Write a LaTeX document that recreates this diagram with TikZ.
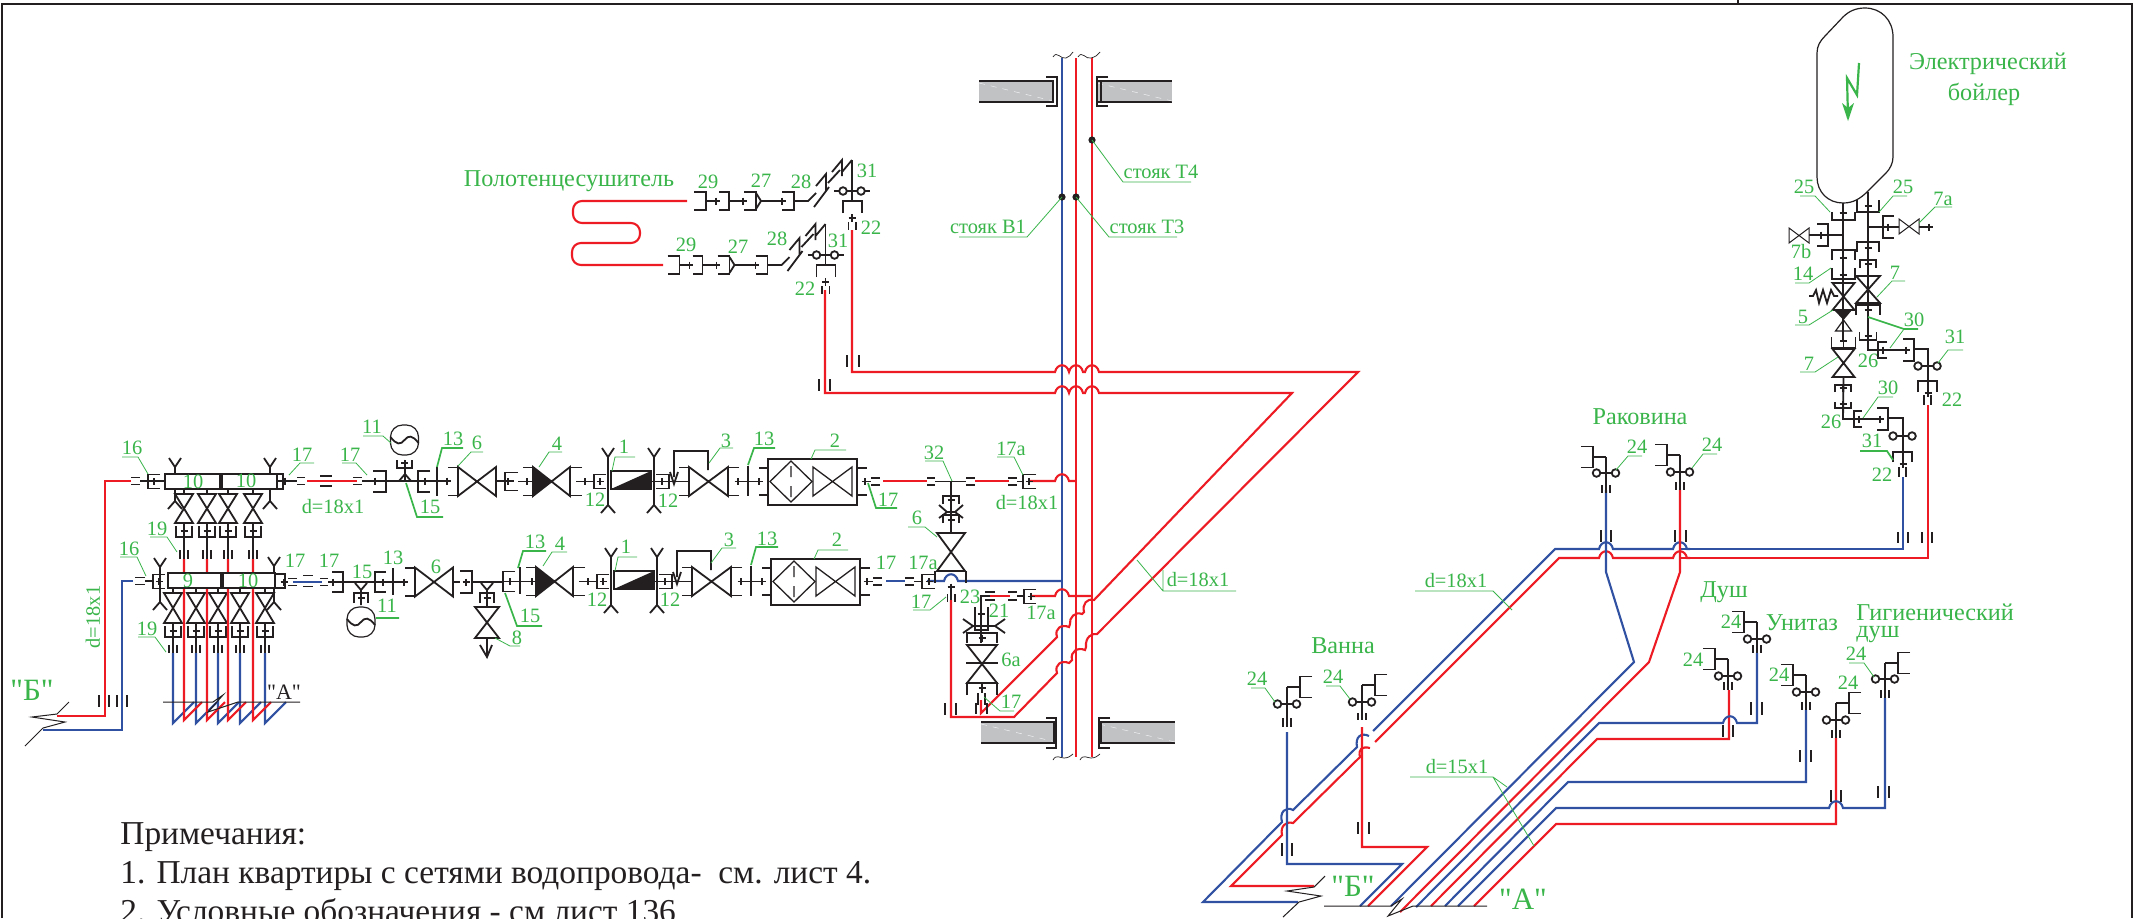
\documentclass[tikz,border=0pt]{standalone}
\usepackage{fontspec}
\setmainfont{Liberation Serif}
\newfontfamily\qf{Liberation Serif}
\definecolor{grn}{RGB}{57,181,74}
\definecolor{rd}{RGB}{237,28,36}
\definecolor{bl}{RGB}{48,80,162}
\definecolor{dk}{RGB}{35,31,32}
\definecolor{wl}{RGB}{192,194,196}
\tikzset{
 sym/.style={draw=dk,line width=0.9pt,line join=miter},
 thn/.style={draw=dk,line width=0.5pt},
 rp/.style={draw=rd,line width=1.05pt},
 bp/.style={draw=bl,line width=1.05pt},
 lead/.style={draw=grn,line width=0.4pt},
 leadt/.style={draw=grn,line width=0.85pt},
 lbl/.style={text=grn,font=\fontsize{10.2}{10}\selectfont,inner sep=0pt},
 lblm/.style={text=grn,font=\fontsize{12.1}{12}\selectfont,inner sep=0pt},
 lblb/.style={text=grn,font=\fontsize{15.5}{15}\selectfont,inner sep=0pt},
 note/.style={text=dk,font=\fontsize{16.7}{16}\selectfont,inner sep=0pt,anchor=base west},
}
\newcounter{lbn}
\newcommand{\lb}[3]{\stepcounter{lbn}\node[lbl] (t\arabic{lbn}) at (#1,#2) {#3};}
\newcommand{\lbm}[3]{\stepcounter{lbn}\node[lblm] (t\arabic{lbn}) at (#1,#2) {#3};}
\newcommand{\xc}[2]{\draw[sym] ({#1-3.5},#2)--({#1+3.5},#2) (#1,{#2-3.5})--(#1,{#2+3.5});}
\newcommand{\Ubr}[4]{\draw[sym] ({#1-#4},#2)--({#1-#4},#3)--({#1+#4},#3)--({#1+#4},#2);}
\newcommand{\Cbr}[4]{\draw[sym] (#1,{#3-#4})--(#2,{#3-#4})--(#2,{#3+#4})--(#1,{#3+#4});}
\newcommand{\Vv}[4]{\draw[sym] ({#1-#4},#2)--({#1+#4},#2)--({#1-#4},#3)--({#1+#4},#3)--cycle;}
\newcommand{\Hv}[4]{\draw[sym] (#1,{#3-#4})--(#2,{#3+#4})--(#2,{#3-#4})--(#1,{#3+#4})--cycle;}
\newcommand{\Eq}[4]{\draw[sym] (#1,{#3-#4})--(#2,{#3-#4}) (#1,{#3+#4})--(#2,{#3+#4});}
\newcommand{\Tk}[4]{\draw[sym] (#1,#3)--(#1,#4) (#2,#3)--(#2,#4);}
\newcommand{\Clamp}[3]{\draw[sym] ({#1-6},#2)--(#1,{#2+9})--({#1+6},#2) (#1,{#2+9})--(#1,{#3-8}) ({#1-7},#3)--(#1,{#3-8})--({#1+7},#3);}
\newcommand{\hm}[2]{-- ({#1-7},#2) .. controls ({#1-5},{#2-9}) and ({#1+5},{#2-9}) .. ({#1+7},#2)}
\newcommand{\Gauge}[2]{\draw[thn,line width=0.6pt,rounded corners=6pt] ({#1-14},{#2-15}) rectangle ({#1+14},{#2+15});
 \draw[sym] ({#1-14},{#2-3}) .. controls ({#1-8},{#2+5}) and ({#1-4},{#2+5}) .. (#1,#2) .. controls ({#1+4},{#2-5}) and ({#1+8},{#2-5}) .. ({#1+14},{#2+3});}
\newcommand{\Fx}[6]{\draw[sym] (#1,#2)--(#1,#5) (#1,#2)--({#1+#6*13},#2);
 \draw[sym] ({#1+#6*25},{#2-10.5})--({#1+#6*13},{#2-10.5})--({#1+#6*13},{#2+10.5})--({#1+#6*25},{#2+10.5});
 \draw[sym] ({#1-9},#3)--({#1+9},#3);
 \draw[sym,fill=white] ({#1-9.5},#3) circle[radius=3.8] ({#1+9.5},#3) circle[radius=3.8];
 \Tk{#1-4}{#1+4}{#4}{#5}}
\newcommand{\Train}{%
 \Cbr{523}{533}{481.5}{14}\Hv{533}{570}{481.5}{14.5}\fill[dk] (533,467)--(552,481.5)--(533,496)--cycle;
 \Cbr{582}{570}{481.5}{14}\draw[sym] (576,481.5)--(594,481.5);\xc{585}{481.5}
 \Cbr{606}{594}{481.5}{7}\xc{600}{481.5}\Clamp{608}{448}{513}
 \draw[sym] (611,471) rectangle (651,489);\fill[dk] (611,489)--(651,471)--(651,489)--cycle;
 \draw[sym] (651,481.5)--(689,481.5);\Clamp{654}{448}{513}\Cbr{656}{669}{481.5}{7}\xc{662}{481.5}
 \Cbr{679}{689}{481.5}{14}\Hv{689}{728}{481.5}{14.5}\Cbr{739}{728}{481.5}{14}
 \draw[sym] (674,477)--(674,451)--(708,451)--(708,470) (670,472)--(674,484)--(678,472);
 \draw[sym] (748,466)--(748,496) (736,481.5)--(759,481.5);\xc{738}{481.5}\xc{759}{481.5}
 \draw[sym] (768,459) rectangle (857,505) (759,468)--(768,468) (759,495)--(768,495) (857,468)--(867,468) (857,495)--(867,495);
 \draw[thn,line width=0.65pt] (770,481.5)--(791,461)--(812,481.5)--(791,502)--cycle (791,466)--(791,477) (791,486)--(791,497);
 \draw[thn,line width=0.65pt] (813,467)--(852,496)--(852,467)--(813,496)--cycle;}
\newcommand{\Tw}{%
 \Cbr{694}{706}{201}{9}\draw[sym] (706,201)--(719,201);\xc{716}{201}\Cbr{719}{729}{201}{9}
 \draw[sym] (729,201)--(744,201);\xc{743}{201}\Cbr{744}{756}{201}{9}\draw[sym] (756,193)--(761,201)--(756,209) (761,201)--(782,201);\xc{782}{201}
 \Cbr{782}{794}{201}{9}\draw[sym] (794,201)--(808,201)--(816,193);
 \draw[sym] (814,207)--(829,187) (816,186)--(826,174)--(826,191) (828,183)--(840,170) (832,172)--(842,160)--(842,176) (842,172)--(852,160);
 \draw[sym] (852,160)--(852,201) (834,191)--(870,191);
 \draw[sym,fill=white] (843,191) circle[radius=3.8] (861,191) circle[radius=3.8];
 \Ubr{852.5}{213}{201}{9.5}\draw[sym] (852,214)--(852,222);\xc{852}{218}\Tk{848.5}{856}{222}{230}}
\newcommand{\Wall}[4]{\fill[wl] (#1,#3) rectangle (#2,#4);\draw[sym] (#1,#3)--(#2,#3) (#1,#4)--(#2,#4);\draw[white!75!wl,line width=0.25pt,dashed] (#1,{#3+2})--(#2,{#4-1});}
\begin{document}
\begin{tikzpicture}[x=0.5pt,y=-0.5pt]
\useasboundingbox (0,0) rectangle (2134,918);
\fill[white] (0,0) rectangle (2134,918);
% frame
\draw[dk,line width=1.3pt] (2,918)--(2,4)--(2132,4)--(2132,918);
\draw[dk,line width=0.6pt] (1738,0)--(1738,4);
% walls
\Wall{979}{1053}{81}{102}\Wall{1097}{1172}{81}{102}\Wall{981}{1056}{722}{743}\Wall{1099}{1175}{722}{743}
\draw[sym] (1046,77)--(1057,77)--(1057,106)--(1046,106) (1053,80)--(1053,103);
\draw[sym] (1108,77)--(1097,77)--(1097,106)--(1108,106) (1101,80)--(1101,103);
\draw[sym] (1046,718)--(1056,718)--(1056,748)--(1046,748) (1054,722)--(1054,744);
\draw[sym] (1110,718)--(1099,718)--(1099,748)--(1110,748) (1101,722)--(1101,744);
% riser waves
\draw[thn,line width=0.35pt] (1053,57) .. controls (1057,50) and (1061,60) .. (1066,58) .. controls (1069,57) and (1071,55) .. (1073,52)
 (1078,57) .. controls (1082,50) and (1086,60) .. (1091,58) .. controls (1095,57) and (1098,55) .. (1100,52)
 (1053,760) .. controls (1056,754) and (1060,758) .. (1064,758) .. controls (1068,758) and (1071,756) .. (1073,754)
 (1080,760) .. controls (1083,754) and (1087,758) .. (1091,758) .. controls (1095,758) and (1098,756) .. (1100,754);
% risers
\draw[bp] (1062,58)--(1062,757);
\draw[rp] (1076,58)--(1076,757);
\draw[rp] (1092,58)--(1092,757);
% risers dots + leaders
\fill[dk] (1092,140) circle[radius=3.6] (1062,197) circle[radius=3.6] (1076,197) circle[radius=3.6];
\draw[lead] (1092,140)--(1123,182)--(1191,182) (1062,197)--(1027,237)--(959,237) (1076,197)--(1109,237)--(1177,237);
\lb{1161}{172}{стояк Т4}\lb{988}{227}{стояк В1}\lb{1147}{227}{стояк Т3}
% apartment pipes : towel rail and its risers
\draw[rp,rounded corners=4.5pt] (687,201)--(573,201)--(573,223)--(640,223)--(640,243)--(572,243)--(572,265)--(663,265);
\draw[rp] (852,230)--(852,372) \hm{1062}{372} \hm{1076}{372} \hm{1092}{372} -- (1358,372)--(1097,634)
 .. controls (1092,633) and (1085,637) .. (1086,647) -- (1085,650) .. controls (1078,647) and (1070,651) .. (1072,660) -- (1069,663) .. controls (1062,660) and (1054,664) .. (1057,673) -- (1014,717)--(951,717)--(951,600);
\draw[rp] (825,290)--(825,393) \hm{1062}{393} \hm{1076}{393} \hm{1092}{393} -- (1292,393)--(1094,600)
 .. controls (1087,598) and (1082,604) .. (1084,612) -- (1082,614) .. controls (1075,611) and (1069,618) .. (1070,624) -- (1069,627) .. controls (1062,624) and (1054,628) .. (1057,637) -- (981,713)--(981,700);
\draw[rp] (883,481)--(927,481) (975,481)--(1009,481);
\draw[rp] (1029,481) \hm{1062}{481} -- (1076,481);
\draw[bp] (886,581)--(905,581);
\draw[bp] (927,581) \hm{951}{581} -- (1062,581);
\draw[rp] (990,596)--(1010,596);
\draw[rp] (1030,596) \hm{1062}{596} -- (1092,596);
% left supply
\draw[rp] (131,481)--(105,481)--(105,716)--(57,716);
\draw[bp] (133,581)--(122,581)--(122,730)--(43,730);
\draw[rp] (307,481)--(357,481);
\draw[bp] (293,582)--(322,582);
\Tk{99}{109}{695}{707}\Tk{117}{127}{695}{707}
\draw[thn] (69,702)--(57,714)--(32,717)--(65,722)--(43,728)--(25,746);
% upper manifold
\draw[sym] (140,481)--(165,481) (277,481)--(297,481);
\Eq{131}{140}{481}{3.5}\Eq{297}{305}{481}{3.5}\Eq{320}{332}{481}{5}\Eq{353}{362}{481}{3.5}
\Cbr{160}{148}{481.5}{7}\xc{154}{481.5}
\foreach \x in {184,207,228,253}{
 \draw[sym] (\x,489)--(\x,494) (\x,523)--(\x,559);
 \Vv{\x}{494}{523}{9}\Ubr{\x}{526}{537}{8}\xc{\x}{531}\Tk{\x-4}{\x+4}{550}{559}}
\Clamp{175}{458}{509}\Clamp{270}{458}{509}
\draw[sym,fill=white] (165,474) rectangle (220,489) (222,474) rectangle (277,489);
\draw[sym] (277,474)--(283,474)--(283,489)--(277,489);
\draw[sym] (283,481)--(290,481);\xc{285}{481}
\draw[sym] (362,481)--(386,481)--(418,481);\xc{375}{481}\Cbr{373}{386}{481.5}{10.5}
\draw[sym] (405,481)--(405,460);\draw[sym] (399,481)--(405,474)--(411,481);
\Ubr{404.5}{460}{468}{7.5}\xc{404.5}{463}\Gauge{404.5}{440}
\Cbr{430}{418}{481.5}{10.5}\draw[sym] (418,481)--(448,481) (437,467)--(437,496);\xc{425}{481}\xc{447}{481}
\Cbr{448}{458}{481.5}{14}\Hv{458}{496}{481.5}{14.5}\draw[sym] (496,481)--(514,481);
\Cbr{518}{505}{481.5}{9}\xc{508}{481.5}\draw[sym] (518,481.5)--(533,481.5);\xc{527}{481.5}
\Train
% upper row right
\draw[sym] (864,481.5)--(871,481.5);\xc{865}{481.5}\Eq{871}{880}{481.5}{3.5}
\Eq{927}{935}{481.5}{3.5}\draw[sym] (935,481.5)--(966,481.5);\Eq{966}{975}{481.5}{3.5}\Eq{1008}{1017}{481.5}{3.5}
\draw[sym] (1017,481.5)--(1023,481.5);\Cbr{1036}{1023}{481.5}{7}\xc{1029}{481.5}
\draw[sym] (951,481.5)--(951,533);\Ubr{951}{504}{496}{8}\xc{951}{500}\Ubr{951}{523}{515}{8}\xc{951}{520}
\draw[sym] (939,505)--(947,512)--(939,518) (963,505)--(955,512)--(963,518) (947,512)--(955,512);
\Vv{951}{533}{571}{14}\draw[sym] (935,571)--(935,583) (966,571)--(966,583);
% lower row
\draw[sym] (145,581)--(153,581);\Eq{135}{145}{581}{3.5}\Cbr{165}{153}{581.5}{7}\xc{159}{581.5}
\foreach \x in {173,196,218,240,265}{
 \draw[sym] (\x,588)--(\x,593) (\x,623)--(\x,653);
 \Vv{\x}{593}{623}{9}\Ubr{\x}{626}{637}{8}\xc{\x}{631}\Tk{\x-4}{\x+4}{645}{653}
 \draw[bp] (\x,653)--(\x,723)--({\x+21},702);}
\foreach \x in {184,207,228,253}{\draw[rp] (\x,559)--(\x,720)--({\x+18},702);}
\Clamp{160}{558}{610}\Clamp{274}{557}{610}
\draw[sym,fill=white] (168,573) rectangle (221,588) (223,573) rectangle (275,588);
\draw[sym] (275,574)--(285,574)--(285,588)--(275,588);
\draw[sym] (283,582)--(288,582);\xc{284}{582}\Eq{288}{297}{582}{3.5}\Eq{303}{313}{581}{5.5}\Eq{320}{328}{582}{3.5}
\draw[sym] (328,582)--(343,582)--(375,582);\xc{333}{582}\Cbr{332}{343}{582}{10}
\draw[sym] (355,583)--(361,590)--(367,583) (361,590)--(361,605);\Ubr{361}{603}{593}{7}\xc{361}{598}\Gauge{361}{622}
\Cbr{386}{375}{582}{10}\draw[sym] (375,582)--(406,582) (393,568)--(393,595);\xc{383}{582}\xc{404}{582}
\Cbr{405}{415}{582}{14}\Hv{415}{453}{582}{14.5}\draw[sym] (453,582)--(460,582);
\Cbr{460}{472}{582}{11}\xc{466}{582}\draw[sym] (472,582)--(503,582);
\draw[sym] (481,583)--(487,590)--(493,583) (487,590)--(487,607);\Ubr{487}{603}{593}{7}\xc{487}{598}
\Vv{487}{607}{638}{12}\draw[sym] (487,638)--(487,657) (480,645)--(487,657)--(492,645);
\Cbr{515}{503}{581.5}{10}\xc{510}{581.5}\draw[sym] (503,581.5)--(536,581.5) (520,567)--(520,594);\xc{532}{581.5}
\begin{scope}[shift={(3,100)}]\Train\end{scope}
\draw[sym] (867,581.5)--(873,581.5);\xc{867}{581.5}\Eq{873}{882}{581.5}{3.5}
\Eq{905}{914}{581.5}{3.5}\draw[sym] (914,581.5)--(922,581.5);\Cbr{935}{922}{581.5}{7}\xc{929}{581.5}
\draw[sym] (951,586)--(951,600);\xc{951}{587}\Tk{947.5}{955}{594}{602}\Tk{945}{956}{703}{715}
% 6a
\draw[rp] (990,596)--(1008,596);
\Eq{985}{995}{596}{4}\Eq{1008}{1017}{596}{4}
\draw[sym] (990,596)--(981,596)--(981,643) (1017,596)--(1024,596);
\Cbr{1036}{1024}{596.5}{7}\xc{1031}{596.5}
\Ubr{981.5}{607}{630}{6.5}\xc{981}{614}
\draw[sym] (963,619)--(973,626)--(963,633) (1005,619)--(995,626)--(1005,633) (973,626)--(995,626);
\draw[sym] (967,643)--(967,633)--(997,633)--(997,643);\xc{982}{638}
\Vv{982}{645}{683}{15}\draw[sym] (966,663)--(998,663);
\draw[sym] (967,695)--(967,683)--(997,683)--(997,695);\draw[sym] (982,683)--(982,693);\xc{982}{688}\Tk{978}{985}{693}{705}
\Tk{976}{987}{703}{714}
% towel fittings
\Tw
\begin{scope}[shift={(-26.5,64)}]\Tw\end{scope}
\Tk{847}{859}{355}{367}\Tk{819}{830}{379}{391}
% A section at left
\draw[thn] (163,702)--(213,702)--(223,695)--(208,712)--(238,702)--(300,702);
\node[text=dk,font=\fontsize{11}{11}\selectfont\qf,inner sep=0pt] (aleft) at (284,692) {"А"};
% boiler
\draw[dk,line width=0.6pt] (1817,53) .. controls (1817,46) and (1820,41) .. (1825,36) -- (1843,17) .. controls (1849,11) and (1856,8) .. (1865,8) .. controls (1881,8) and (1893,20) .. (1893,37)
 -- (1893,157) .. controls (1893,163) and (1890,169) .. (1886,173) -- (1868,191) .. controls (1860,199) and (1853,203) .. (1843,203) .. controls (1828,203) and (1817,192) .. (1817,177) -- cycle;
\draw[grn,line width=1.1pt] (1859,63)--(1857,95)--(1847,78)--(1848,118);
\fill[grn] (1842,103)--(1848,121)--(1854,103)--(1848,108)--cycle;
% boiler left column
\draw[sym] (1843,203)--(1843,340);
\Ubr{1843.5}{212}{220}{11.5}\xc{1843}{213}
\draw[sym] (1843,235)--(1809,235);\Cbr{1817}{1828}{235}{11}\xc{1821}{235}
\draw[thn,line width=0.5pt] (1789,228)--(1809,243)--(1809,228)--(1789,243)--cycle;
\Ubr{1843.5}{260}{250}{11.5}\xc{1843}{258}\Ubr{1843.5}{268}{279}{11.5}\xc{1843}{275}
\Vv{1843.5}{283}{310}{11}
\draw[sym] (1809,296)--(1813,296)--(1816,290)--(1819,303)--(1823,290)--(1827,303)--(1831,290)--(1834,296)--(1838,296);
\fill[dk] (1834,310)--(1852,310)--(1843.5,320)--cycle;
\draw[thn,line width=0.6pt] (1843.5,320)--(1835.5,331)--(1851.5,331)--cycle;
\draw[sym] (1843.5,331)--(1843.5,349);\Ubr{1843.5}{337}{348}{12}\xc{1843.5}{341}
\Vv{1843.5}{349}{377}{11}
\draw[sym] (1843.5,377)--(1843,419)--(1854,419);
\Ubr{1843}{392}{385}{8}\xc{1843}{388}\Ubr{1843}{402}{408}{8}\xc{1843}{404}
\Cbr{1862}{1854}{419}{8}\draw[sym] (1854,419)--(1882,419);\xc{1859}{419}\xc{1880}{419}
\Cbr{1877}{1888}{419}{11}\draw[sym] (1888,418)--(1903,418)--(1903,467);
\draw[sym] (1893,436)--(1912,436);\draw[sym,fill=white] (1893,436) circle[radius=3.8] (1912,436) circle[radius=3.8];
\Ubr{1902.5}{462}{452}{9.5}\xc{1903}{464}\Tk{1899}{1906}{467}{477}
% boiler right column
\draw[sym] (1868,192)--(1868,350)--(1878,350);
\Ubr{1868}{200}{212}{11}\xc{1868}{206}
\draw[sym] (1868,227)--(1883,227);\Cbr{1894}{1883}{227}{11}\xc{1888}{227}\draw[sym] (1883,227)--(1899,227);
\draw[thn,line width=0.5pt] (1899,219)--(1919,234)--(1919,219)--(1899,234)--cycle;
\draw[sym] (1919,227)--(1932,227);\xc{1929}{227}
\Ubr{1868}{252}{242}{11}\xc{1868}{248}\Ubr{1868}{268}{260}{8}\xc{1868}{264}
\Vv{1868}{276}{303}{12}\Ubr{1868}{315}{305}{12}\xc{1868}{310}\Ubr{1868}{332}{340}{8.5}\xc{1868}{336}
\Cbr{1887}{1878}{350}{8}\draw[sym] (1878,350)--(1907,350);\xc{1883}{350}\xc{1906}{350}
\Cbr{1903}{1914}{350}{11}\draw[sym] (1914,349)--(1928,349)--(1928,395);
\draw[sym] (1918,366)--(1937,366);\draw[sym,fill=white] (1918,366) circle[radius=3.8] (1937,366) circle[radius=3.8];
\Ubr{1927.5}{392}{381}{9.5}\xc{1928}{393}\Tk{1924}{1931}{395}{405}
% right side pipes
\draw[bp] (1903,477)--(1903,549)--(1680,549);
\draw[rp] (1928,405)--(1928,558)--(1680,558);
\draw[bp] (1298,902)--(1203,902)--(1282,822) .. controls (1279,812) and (1286,806) .. (1293,810)--(1357,747) .. controls (1355,737) and (1361,732) .. (1369,736);
\draw[rp] (1314,886)--(1231,886)--(1282,835) .. controls (1280,826) and (1286,821) .. (1293,823)--(1360,757) .. controls (1358,749) and (1362,746) .. (1370,748);
\draw[bp] (1373,731)--(1555,549) \hm{1606}{549} \hm{1680}{549} -- (1690,549);
\draw[rp] (1375,742)--(1559,558) \hm{1606}{558} \hm{1680}{558} -- (1690,558);
\draw[bp] (1287,732)--(1287,864)--(1402,864)--(1360,906);
\draw[rp] (1362,727)--(1362,847)--(1427,847)--(1368,906);
\draw[bp] (1606,490)--(1606,572)--(1634,662)--(1391,906);
\draw[rp] (1680,490)--(1680,572)--(1649,662)--(1400,912);
\draw[rp] (1431,906)--(1597,739)--(1729,739)--(1729,690);
\draw[bp] (1416,907)--(1599,723) \hm{1730}{723} -- (1757,723)--(1757,653);
\draw[bp] (1445,906)--(1568,782)--(1806,782)--(1806,710);
\draw[rp] (1474,906)--(1556,824)--(1836,824)--(1836,738);
\draw[bp] (1458,906)--(1556,808) \hm{1836}{808} -- (1885,808)--(1885,698);
% ticks on lines
\Tk{1898}{1908}{532}{543}\Tk{1922}{1932}{532}{543}\Tk{1601}{1611}{530}{542}\Tk{1675}{1686}{530}{542}
\Tk{1282}{1292}{843}{856}\Tk{1358}{1369}{822}{834}\Tk{1723}{1733}{725}{737}\Tk{1751}{1762}{702}{715}
\Tk{1800}{1811}{750}{762}\Tk{1831}{1841}{790}{802}\Tk{1878}{1889}{786}{798}
% fixtures
\Fx{1606}{457}{473}{485}{493}{-1}\Fx{1680}{455}{472}{482}{490}{-1}
\Fx{1287}{687}{704}{718}{727}{1}\Fx{1362}{685}{702}{713}{720}{1}
\Fx{1757}{622}{639}{645}{653}{-1}\Fx{1728}{659}{676}{682}{690}{-1}\Fx{1806}{675}{692}{702}{710}{-1}
\Fx{1836}{703}{720}{730}{738}{1}\Fx{1885}{663}{679}{690}{698}{1}
% break lines right group
\draw[thn] (1325,876)--(1314,887)--(1287,891)--(1321,896)--(1299,902)--(1283,917);
\draw[thn] (1324,906)--(1391,906)--(1402,899)--(1388,916)--(1413,906)--(1487,906);
% leaders
\draw[lead] (122,457)--(138,457)--(148,474) (120,557)--(137,557)--(146,576) (150,537)--(167,537)--(177,552) (138,637)--(155,637)--(166,652)
 (314,463)--(300,463)--(289,475) (342,463)--(356,463)--(367,475) (363,436)--(383,436)--(391,443) (483,452)--(471,452)--(458,466)
 (520,646)--(510,646)--(495,638) (562,452)--(549,452)--(539,467) (635,457)--(615,457)--(612,471) (733,448)--(720,448)--(709,463)
 (846,450)--(815,450)--(811,459) (925,461)--(943,461)--(952,481) (997,457)--(1014,457)--(1023,475) (908,527)--(925,527)--(937,537)
 (567,552)--(552,552)--(543,566) (637,557)--(618,557)--(615,571) (736,548)--(722,548)--(711,563) (848,550)--(818,550)--(814,559)
 (946,597)--(930,610)--(913,610) (1014,711)--(1000,711)--(984,697)
 (1137,560)--(1163,591) (1163,570)--(1163,591) (1163,591)--(1236,591)
 (1415,591)--(1493,591)--(1512,610) (1410,777)--(1493,777)--(1507,787) (1493,777)--(1534,846)
 (1800,196)--(1815,196)--(1830,212) (1907,196)--(1893,196)--(1879,212) (1919,223)--(1935,207)--(1952,207)
 (1795,283)--(1809,283)--(1831,268) (1905,281)--(1892,281)--(1877,297) (1795,325)--(1809,325)--(1833,310) (1890,348)--(1904,329)
 (1963,350)--(1948,350)--(1938,363) (1800,372)--(1815,372)--(1838,357) (1893,397)--(1878,397)--(1863,418)
 (1642,456)--(1628,456)--(1616,470) (1717,454)--(1703,454)--(1692,468) (1251,688)--(1265,688)--(1275,702) (1326,686)--(1340,686)--(1350,699)
 (1849,663)--(1864,663)--(1874,677);
\draw[leadt] (463,448)--(442,448)--(437,467) (406,483)--(417,517)--(443,517) (399,618)--(376,618)
 (775,448)--(754,448)--(748,465) (546,551)--(523,551)--(518,568) (778,547)--(756,547)--(751,565) (505,593)--(517,626)--(542,626)
 (868,483)--(876,508)--(897,508) (1868,317)--(1904,329)--(1918,329) (1860,451)--(1887,451)--(1893,460);
% labels
\lb{132}{448}{16}\lb{129}{549}{16}\lb{157}{529}{19}\lb{147}{629}{19}\lb{193}{482}{10}\lb{246}{481}{10}\lb{188}{581}{9}\lb{248}{581}{10}
\lb{302}{455}{17}\lb{350}{455}{17}\lb{372}{427}{11}\lb{453}{439}{13}\lb{477}{443}{6}\lb{430}{507}{15}\lb{333}{507}{d=18x1}
\lb{295}{561}{17}\lb{329}{561}{17}\lb{362}{572}{15}\lb{393}{558}{13}\lb{436}{567}{6}\lb{387}{606}{11}\lb{517}{638}{8}
\lb{557}{444}{4}\lb{624}{447}{1}\lb{726}{441}{3}\lb{764}{439}{13}\lb{835}{441}{2}\lb{595}{500}{12}\lb{668}{501}{12}\lb{888}{500}{17}
\lb{934}{453}{32}\lb{1011}{449}{17a}\lb{1027}{503}{d=18x1}\lb{917}{518}{6}
\lb{535}{542}{13}\lb{560}{544}{4}\lb{626}{547}{1}\lb{729}{540}{3}\lb{767}{539}{13}\lb{837}{540}{2}\lb{530}{616}{15}\lb{597}{600}{12}\lb{670}{600}{12}
\lb{886}{563}{17}\lb{923}{563}{17a}\lb{921}{602}{17}\lb{970}{597}{23}\lb{999}{611}{21}\lb{1041}{613}{17a}\lb{1011}{660}{6a}\lb{1011}{702}{17}
\lb{1198}{580}{d=18x1}\lb{1456}{581}{d=18x1}\lb{1457}{766}{d=15x1}
\stepcounter{lbn}\node[lbl,rotate=90] (t\arabic{lbn}) at (93,617) {d=18x1};
\lb{708}{182}{29}\lb{761}{181}{27}\lb{801}{182}{28}\lb{867}{171}{31}\lb{871}{228}{22}
\lb{686}{245}{29}\lb{738}{247}{27}\lb{777}{239}{28}\lb{838}{241}{31}\lb{805}{289}{22}
\lb{1804}{187}{25}\lb{1903}{187}{25}\lb{1943}{199}{7a}\lb{1801}{252}{7b}\lb{1803}{274}{14}\lb{1895}{273}{7}\lb{1803}{317}{5}\lb{1914}{320}{30}
\lb{1955}{337}{31}\lb{1868}{361}{26}\lb{1952}{400}{22}\lb{1809}{364}{7}\lb{1888}{388}{30}\lb{1831}{422}{26}\lb{1872}{441}{31}\lb{1882}{475}{22}
\lb{1637}{447}{24}\lb{1712}{445}{24}\lb{1257}{679}{24}\lb{1333}{677}{24}\lb{1731}{622}{24}\lb{1693}{660}{24}\lb{1779}{675}{24}\lb{1848}{683}{24}\lb{1856}{654}{24}
\lbm{569}{181}{Полотенцесушитель}\lbm{1988}{64}{Электрический}\lbm{1984}{94}{бойлер}\lbm{1640}{417}{Раковина}\lbm{1343}{646}{Ванна}
\lbm{1724}{592}{Душ}\lbm{1802}{623}{Унитаз}
\stepcounter{lbn}\node[lblm,anchor=west] (t\arabic{lbn}) at (1856,612) {Гигиенический};
\stepcounter{lbn}\node[lblm,anchor=west] (t\arabic{lbn}) at (1856,635) {душ};
\node[lblb,font=\fontsize{15.5}{15}\selectfont\qf] (bleft) at (32,690) {"Б"};\node[lblb,font=\fontsize{15.5}{15}\selectfont\qf] (bright) at (1353,886) {"Б"};\node[lblb,font=\fontsize{15.5}{15}\selectfont\qf] (aright) at (1523,899) {"А"};
% notes
\node[note] (n1) at (120,844) {Примечания:};
\node[note] (n2) at (120,883) {1. План квартиры с сетями водопровода-\ \ см. лист 4.};
\node[note] (n3) at (120,922) {2. Условные обозначения - см лист 136};
\end{tikzpicture}
\end{document}
